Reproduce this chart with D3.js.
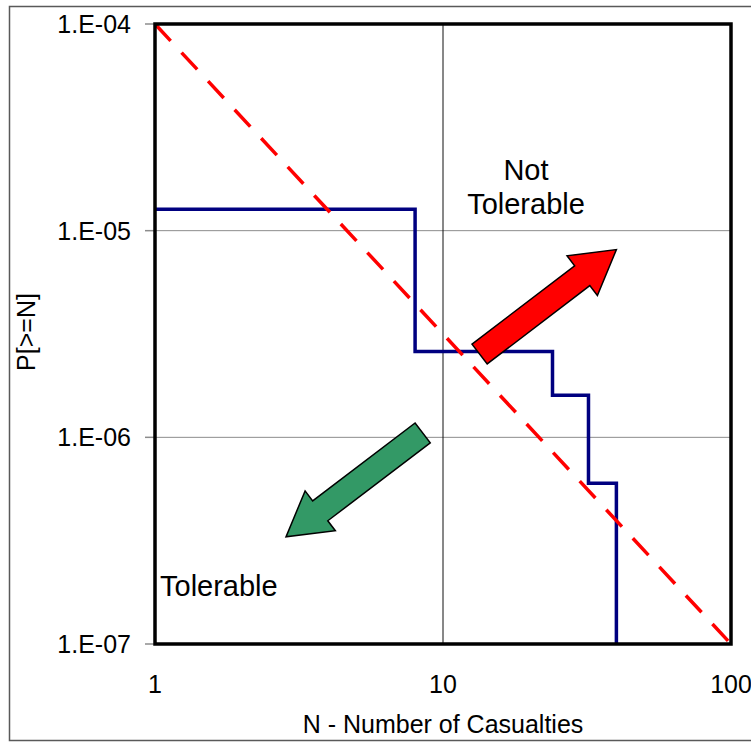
<!DOCTYPE html>
<meta charset="utf-8">
<style>
body { margin: 0; background: #fff; }
text { font-family: "Liberation Sans", Arial, Helvetica, sans-serif; fill: #000; }
</style>
<svg width="751" height="743"></svg>
<script src="https://d3js.org/d3.v7.min.js"></script>
<script>

// F-N curve (step) values
var casualties  = [1, 8, 24, 32, 40];
var probability = [1.27e-5, 2.6e-6, 1.6e-6, 6.0e-7, 1.0e-7];

// tolerability criterion line
var criterionN = [1, 100];
var criterionP = [1e-4, 1e-7];

var xTicks = [1, 10, 100];
var xTickLabels = ["1", "10", "100"];
var yTicks = [1e-4, 1e-5, 1e-6, 1e-7];
var yTickLabels = ["1.E-04", "1.E-05", "1.E-06", "1.E-07"];

// the two block arrows, tail -> tip, in chart units
var arrowTailN = [13.4, 8.5];
var arrowTailP = [2.53e-6, 1.05e-6];
var arrowTipN  = [40, 2.85];
var arrowTipP  = [8.1e-6, 3.3e-7];
var arrowFill  = ["#ff0000", "#339966"];

var svg = d3.select("svg"),
    width = +svg.attr("width"),
    height = +svg.attr("height");

var plotL = 155, plotR = 731, plotT = 24, plotB = 644;

var x = d3.scaleLog().domain([1, 100]).range([plotL, plotR]);
var y = d3.scaleLog().domain([1e-4, 1e-7]).range([plotT, plotB]);

// outer frame
svg.append("rect")
    .attr("x", 9.5).attr("y", 6.5)
    .attr("width", 780).attr("height", 734)
    .attr("fill", "none")
    .attr("stroke", "#595959")
    .attr("stroke-width", 1.5);

// gridlines
svg.append("g").selectAll("line")
  .data(yTicks.slice(1, 3))
  .enter().append("line")
    .attr("x1", plotL).attr("x2", plotR)
    .attr("y1", function(d) { return y(d); })
    .attr("y2", function(d) { return y(d); })
    .attr("stroke", "#8c8c8c")
    .attr("stroke-width", 1);

svg.append("line")
    .attr("x1", x(10)).attr("x2", x(10))
    .attr("y1", plotT).attr("y2", plotB)
    .attr("stroke", "#111")
    .attr("stroke-width", 1);

// y axis ticks + labels
var yAxis = svg.append("g");
yAxis.selectAll("line")
  .data(yTicks)
  .enter().append("line")
    .attr("x1", plotL - 10).attr("x2", plotL)
    .attr("y1", function(d) { return y(d); })
    .attr("y2", function(d) { return y(d); })
    .attr("stroke", "#8c8c8c")
    .attr("stroke-width", 1.5);

yAxis.selectAll("text")
  .data(yTicks)
  .enter().append("text")
    .attr("x", 131)
    .attr("y", function(d) { return y(d) + 9; })
    .attr("text-anchor", "end")
    .style("font-size", "25px")
    .text(function(d, i) { return yTickLabels[i]; });

// x axis labels
svg.append("g").selectAll("text")
  .data(xTicks)
  .enter().append("text")
    .attr("x", function(d) { return x(d); })
    .attr("y", 693)
    .attr("text-anchor", "middle")
    .style("font-size", "25px")
    .text(function(d, i) { return xTickLabels[i]; });

// axis titles
svg.append("text")
    .attr("x", 443)
    .attr("y", 733)
    .attr("text-anchor", "middle")
    .style("font-size", "25px")
    .text("N - Number of Casualties");

svg.append("text")
    .attr("transform", "translate(35,332) rotate(-90)")
    .attr("text-anchor", "middle")
    .style("font-size", "25px")
    .text("P[>=N]");

// F-N step curve
var fn = casualties.map(function(n, i) { return [n, probability[i]]; });
var stepLine = d3.line()
    .x(function(d) { return x(d[0]); })
    .y(function(d) { return y(d[1]); })
    .curve(d3.curveStepAfter);

svg.append("path")
    .datum(fn)
    .attr("d", stepLine)
    .attr("fill", "none")
    .attr("stroke", "#000080")
    .attr("stroke-width", 3.5);

// criterion line (dashed)
var crit = criterionN.map(function(n, i) { return [n, criterionP[i]]; });
svg.append("path")
    .datum(crit)
    .attr("d", d3.line().x(function(d) { return x(d[0]); }).y(function(d) { return y(d[1]); }))
    .attr("fill", "none")
    .attr("stroke", "#ff0000")
    .attr("stroke-width", 3.5)
    .attr("stroke-dasharray", "23,16");

// block arrows
function arrowPath(len) {
  var sw = 12.5, hw = 25, hl = 43;
  return "M0," + (-sw) + "L" + (len - hl) + "," + (-sw) +
         "L" + (len - hl) + "," + (-hw) + "L" + len + ",0" +
         "L" + (len - hl) + "," + hw + "L" + (len - hl) + "," + sw +
         "L0," + sw + "Z";
}

svg.append("g").selectAll("path")
  .data(arrowFill)
  .enter().append("path")
    .attr("transform", function(d, i) {
      var x0 = x(arrowTailN[i]), y0 = y(arrowTailP[i]);
      var a = Math.atan2(y(arrowTipP[i]) - y0, x(arrowTipN[i]) - x0) * 180 / Math.PI;
      return "translate(" + x0 + "," + y0 + ") rotate(" + a + ")";
    })
    .attr("d", function(d, i) {
      var dx = x(arrowTipN[i]) - x(arrowTailN[i]), dy = y(arrowTipP[i]) - y(arrowTailP[i]);
      return arrowPath(Math.sqrt(dx * dx + dy * dy));
    })
    .attr("fill", function(d) { return d; })
    .attr("stroke", "#000")
    .attr("stroke-width", 1.5)
    .attr("stroke-linejoin", "miter");

// region labels
svg.append("text")
    .attr("x", 526).attr("y", 180)
    .attr("text-anchor", "middle")
    .style("font-size", "29px")
    .text("Not");
svg.append("text")
    .attr("x", 526).attr("y", 214)
    .attr("text-anchor", "middle")
    .style("font-size", "29px")
    .text("Tolerable");
svg.append("text")
    .attr("x", 160).attr("y", 596)
    .style("font-size", "29px")
    .text("Tolerable");

// plot border
svg.append("rect")
    .attr("x", plotL).attr("y", plotT)
    .attr("width", plotR - plotL).attr("height", plotB - plotT)
    .attr("fill", "none")
    .attr("stroke", "#000")
    .attr("stroke-width", 3.5);

</script>
